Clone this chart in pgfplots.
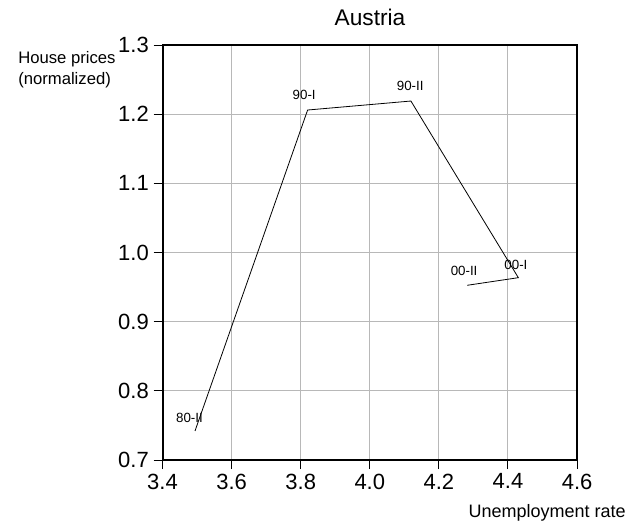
\documentclass[border=0pt]{standalone}
\usepackage{fontspec}
\setmainfont{Liberation Sans}
\usepackage{pgfplots}
\pgfplotsset{compat=1.18}
\begin{document}
\begin{tikzpicture}[x=1pt,y=1pt]
\useasboundingbox (-121.9pt,-51pt) rectangle (353.6pt,345pt);
\begin{axis}[
  at={(0pt,0pt)}, anchor=south west,
  scale only axis,
  width=310.9pt, height=311.25pt,
  xmin=3.4, xmax=4.6, ymin=0.7, ymax=1.3,
  xtick={3.4,3.6,3.8,4.0,4.2,4.4,4.6},
  ytick={0.7,0.8,0.9,1.0,1.1,1.2,1.3},
  xticklabels={3.4,3.6,3.8,4.0,4.2,4.4,4.6},
  yticklabels={0.7,0.8,0.9,1.0,1.1,1.2,1.3},
  xtick pos=bottom, ytick pos=left,
  /pgf/number format/assume math mode=true,
  tick label style={font=\fontsize{16.5}{19}\selectfont},
  grid=major,
  major grid style={color=black!28, line width=0.75pt},
  axis line style={line width=1.5pt},
  tick style={black, line width=0.75pt},
  tick align=outside,
  major tick length=6.75pt,
  clip=false,
]
\addplot[black, line width=0.6pt, mark=none] coordinates {
  (3.494,0.742) (3.820,1.206) (4.119,1.219) (4.430,0.9636) (4.282,0.9526)
};
\draw[black, line width=1.5pt] (rel axis cs:0,0) rectangle (rel axis cs:1,1);
\node[font=\fontsize{10}{12}\selectfont, inner sep=0pt] at (axis cs:3.478,0.761) {80-II};
\node[font=\fontsize{10}{12}\selectfont, inner sep=0pt] at (axis cs:3.810,1.228) {90-I};
\node[font=\fontsize{10}{12}\selectfont, inner sep=0pt] at (axis cs:4.117,1.241) {90-II};
\node[font=\fontsize{10}{12}\selectfont, inner sep=0pt] at (axis cs:4.423,0.982) {00-I};
\node[font=\fontsize{10}{12}\selectfont, inner sep=0pt] at (axis cs:4.273,0.973) {00-II};
\end{axis}
\node[anchor=base, inner sep=0pt, font=\fontsize{17}{19}\selectfont] at (155.6pt,325.5pt) {Austria};
\node[anchor=base west, inner sep=0pt, font=\fontsize{12.5}{15}\selectfont] at (-108.4pt,297pt) {House prices};
\node[anchor=base west, inner sep=0pt, font=\fontsize{12.5}{15}\selectfont] at (-108.4pt,281.25pt) {(normalized)};
\node[anchor=base east, inner sep=0pt, font=\fontsize{13.5}{15}\selectfont] at (347.6pt,-42.75pt) {Unemployment rate};
\end{tikzpicture}
\end{document}
